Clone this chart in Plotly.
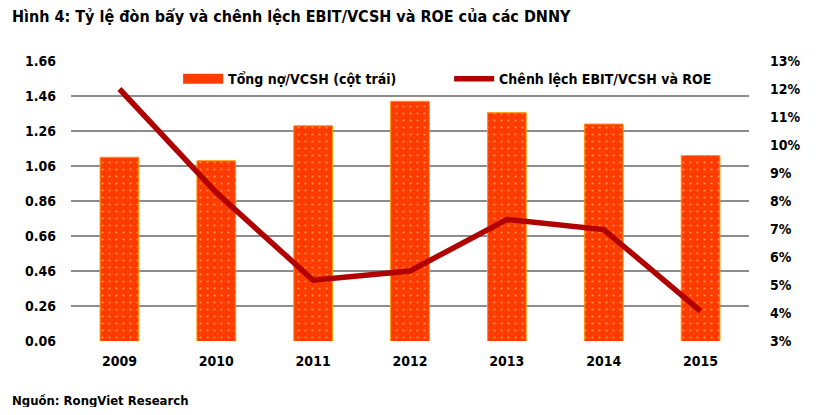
import plotly.graph_objects as go

# data
years = ["2009", "2010", "2011", "2012", "2013", "2014", "2015"]
debt_equity = [1.11, 1.09, 1.29, 1.43, 1.365, 1.30, 1.12]      # left axis
ebit_roe_gap = [0.120, 0.083, 0.0517, 0.055, 0.0734, 0.0698, 0.0407]  # right axis

left_ticks = [0.06, 0.26, 0.46, 0.66, 0.86, 1.06, 1.26, 1.46, 1.66]

FONT = "DejaVu Sans Condensed, Roboto, sans-serif"
BAR_COLOR = "#ff3c00"
LINE_COLOR = "#b00000"

fig = go.Figure()

fig.add_trace(go.Bar(
    x=years, y=debt_equity, name="Tổng nợ/VCSH (cột trái)", showlegend=False,
    marker=dict(color=BAR_COLOR, line=dict(color="#ff9a00", width=1),
                pattern=dict(shape=".", fgcolor="#ffe0b0", size=7, solidity=0.08)),
    yaxis="y",
))
# legend proxy so the bar key is a wide block like the original
fig.add_trace(go.Scatter(
    x=[None], y=[None], name="Tổng nợ/VCSH (cột trái)", mode="lines",
    line=dict(color=BAR_COLOR, width=10), yaxis="y",
))

fig.add_trace(go.Scatter(
    x=years, y=ebit_roe_gap, name="Chênh lệch EBIT/VCSH và ROE",
    mode="lines", line=dict(color=LINE_COLOR, width=5.5),
    yaxis="y2",
))

# page body has an 8px margin, so the figure is a bit smaller than the window
fig.update_layout(
    width=805, height=399,
    margin=dict(l=63, r=48, t=53, b=66),
    paper_bgcolor="white", plot_bgcolor="white",
    font=dict(family=FONT, size=14, color="black"),
    bargap=0.6,
    showlegend=True,
    legend=dict(orientation="h", x=0.158, y=0.935, xanchor="left", yanchor="middle",
                font=dict(size=14, family=FONT, weight="bold"), bgcolor="rgba(0,0,0,0)",
                traceorder="normal", itemwidth=40, entrywidthmode="pixels", entrywidth=216),
    xaxis=dict(showgrid=False, showline=False, ticks="", ticklabelstandoff=10,
               tickfont=dict(size=14, family=FONT, weight="bold")),
    yaxis=dict(range=[0.06, 1.66], tickvals=left_ticks, tickformat=".2f",
               showgrid=True, gridcolor="#8c8c8c", gridwidth=1.5,
               zeroline=False, showline=False, ticks="", ticklabelstandoff=14,
               tickfont=dict(size=14, family=FONT, weight="bold")),
    yaxis2=dict(range=[0.03, 0.13], dtick=0.01, tickformat=".0%",
                overlaying="y", side="right", showgrid=False, zeroline=False,
                showline=False, ticks="", ticklabelstandoff=20,
                tickfont=dict(size=14, family=FONT, weight="bold")),
    annotations=[
        dict(text="<b>Hình 4: Tỷ lệ đòn bẩy và chênh lệch EBIT/VCSH và ROE của các DNNY</b>",
             xref="paper", yref="paper", x=-0.09, y=1.16, xanchor="left", yanchor="middle",
             showarrow=False, font=dict(size=16, family=FONT, color="black")),
        dict(text="<b>Nguồn: RongViet Research</b>",
             xref="paper", yref="paper", x=-0.09, y=-0.212, xanchor="left", yanchor="middle",
             showarrow=False, font=dict(size=13, family=FONT, color="black")),
    ],
)

fig.write_html("out.html")
